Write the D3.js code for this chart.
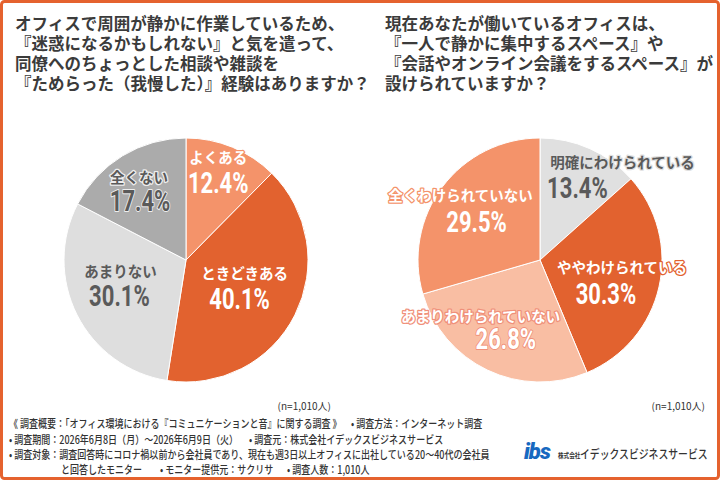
<!DOCTYPE html>
<html>
<head>
<meta charset="utf-8">
<script src="https://cdn.jsdelivr.net/npm/d3@7"></script>
<style>
  html, body { margin: 0; padding: 0; background: #fff; }
  svg { display: block; }
</style>
</head>
<body>
<div id="chart"></div>
<script>
// Data
const leftTitle = [
  "オフィスで周囲が静かに作業しているため、",
  "『迷惑になるかもしれない』と気を遣って、",
  "同僚へのちょっとした相談や雑談を",
  "『ためらった（我慢した）』経験はありますか？"
];
const leftLabels = ["よくある", "ときどきある", "あまりない", "全くない"];
const leftValues = [12.4, 40.1, 30.1, 17.4];

const rightTitle = [
  "現在あなたが働いているオフィスは、",
  "『一人で静かに集中するスペース』や",
  "『会話やオンライン会議をするスペース』が",
  "設けられていますか？"
];
const rightLabels = ["明確にわけられている", "ややわけられている", "あまりわけられていない", "全くわけられていない"];
const rightValues = [13.4, 30.3, 26.8, 29.5];

const sampleNote = "(n=1,010人)";

const width = 720;
const height = 480;
const jp = "'Noto Sans CJK JP', 'Noto Sans', sans-serif";

const svg = d3.select("#chart").append("svg")
    .attr("width", width)
    .attr("height", height);

svg.append("rect")
    .attr("width", width).attr("height", height)
    .attr("fill", "#fff");

// orange frame
svg.append("rect")
    .attr("x", 1.5).attr("y", 1.5)
    .attr("width", width - 3).attr("height", height - 3)
    .attr("rx", 3)
    .attr("fill", "none")
    .attr("stroke", "#E5622E")
    .attr("stroke-width", 3);

// titles
function drawTitle(lines, x) {
  svg.append("g").selectAll("text")
    .data(lines)
    .join("text")
    .attr("x", x)
    .attr("y", (d, i) => 30 + i * 20)
    .attr("font-family", jp)
    .attr("font-weight", 700)
    .attr("font-size", 16.5)
    .attr("fill", "#3b3b3b")
    .text(d => d);
}
drawTitle(leftTitle, 15);
drawTitle(rightTitle, 385);

// pie helper
const radius = 122;
const pie = d3.pie().sort(null).value(d => d);
const arc = d3.arc().innerRadius(0).outerRadius(radius);
const labelArc = d3.arc().innerRadius(radius * 0.63).outerRadius(radius * 0.63);

function drawPie(cfg) {
  const g = svg.append("g").attr("transform", `translate(${cfg.cx},${cfg.cy})`);
  const arcs = pie(cfg.values);

  g.selectAll("path")
    .data(arcs)
    .join("path")
    .attr("d", arc)
    .attr("fill", (d, i) => cfg.colors[i])
    .attr("stroke", "#fff")
    .attr("stroke-width", 1);

  const lab = g.selectAll("g.lab")
    .data(arcs)
    .join("g")
    .attr("class", "lab")
    .attr("transform", (d, i) => {
      const [x, y] = labelArc.centroid(d);
      return `translate(${x + cfg.nudge[i][0]},${y + cfg.nudge[i][1]})`;
    });

  // category name
  lab.append("text")
    .attr("x", (d, i) => cfg.nameShift[i][0])
    .attr("y", (d, i) => cfg.nameShift[i][1])
    .attr("text-anchor", "middle")
    .attr("font-family", jp)
    .attr("font-weight", 700)
    .attr("font-size", 14.5)
    .attr("fill", (d, i) => cfg.textColors[i])
    .attr("stroke", (d, i) => cfg.haloColors[i])
    .attr("stroke-width", 2.5)
    .attr("stroke-linejoin", "round")
    .attr("paint-order", "stroke")
    .text((d, i) => cfg.labels[i]);

  // percentage (condensed)
  lab.append("text")
    .attr("transform", "translate(0,10.5) scale(0.76,1)")
    .attr("text-anchor", "middle")
    .attr("font-family", "Roboto, 'DejaVu Sans', sans-serif")
    .attr("font-weight", 700)
    .attr("font-size", 29)
    .attr("fill", (d, i) => cfg.textColors[i])
    .attr("stroke", (d, i) => cfg.haloColors[i])
    .attr("stroke-width", 2)
    .attr("stroke-linejoin", "round")
    .attr("paint-order", "stroke")
    .text(d => d.value.toFixed(1) + "%");

  svg.append("text")
    .attr("x", cfg.noteX)
    .attr("y", 410)
    .attr("text-anchor", "end")
    .attr("font-family", jp)
    .attr("font-size", 10)
    .attr("fill", "#333")
    .text(sampleNote);
}

drawPie({
  cx: 186, cy: 260,
  values: leftValues,
  labels: leftLabels,
  colors: ["#F4936A", "#E2622F", "#DEDEDE", "#ABABAB"],
  textColors: ["#fff", "#fff", "#5a5a5a", "#5a5a5a"],
  haloColors: ["#F4936A", "#E2622F", "#DEDEDE", "#eeeeee"],
  nudge: [[3, -6], [-15, 4], [2, 1], [-6, 6]],
  nameShift: [[0, -20], [5, -20], [1, -19], [-1, -17]],
  noteX: 331
});

drawPie({
  cx: 540, cy: 260,
  values: rightValues,
  labels: rightLabels,
  colors: ["#E0E0E0", "#E2622F", "#F9BEA3", "#F4936A"],
  textColors: ["#5a5a5a", "#fff", "#fff", "#fff"],
  haloColors: ["#E0E0E0", "#E2622F", "#F0907A", "#F4936A"],
  nudge: [[6, -2], [-9, 16], [-1, 9], [-2, 8]],
  nameShift: [[45, -20], [16, -20], [-25, -16], [-16, -21]],
  noteX: 705
});

// footer notes
const footer = [
  { x: 9, y: 428, t: "《 調査概要：「オフィス環境における『コミュニケーションと音』に関する調査 》" },
  { x: 351, y: 428, t: "• 調査方法：インターネット調査" },
  { x: 9, y: 444, t: "• 調査期間：2026年6月8日（月）～2026年6月9日（火）" },
  { x: 249, y: 444, t: "• 調査元：株式会社イデックスビジネスサービス" },
  { x: 9, y: 459, t: "• 調査対象：調査回答時にコロナ禍以前から会社員であり、現在も週3日以上オフィスに出社している20～40代の会社員" },
  { x: 61, y: 474, t: "と回答したモニター" },
  { x: 160, y: 474, t: "• モニター提供元：サクリサ" },
  { x: 287, y: 474, t: "• 調査人数：1,010人" }
];
svg.append("g").selectAll("text")
  .data(footer)
  .join("text")
  .attr("transform", d => `translate(${d.x},${d.y}) scale(0.82,1)`)
  .attr("font-family", jp)
  .attr("font-weight", 500)
  .attr("font-size", 11)
  .attr("fill", "#333")
  .text(d => d.t);

// company logo
const logo = svg.append("g").attr("transform", "translate(524,459)");
logo.append("text")
  .attr("font-family", "Roboto, sans-serif")
  .attr("font-weight", 900)
  .attr("font-style", "italic")
  .attr("font-size", 22)
  .attr("fill", "#1769C0")
  .attr("letter-spacing", -1)
  .text("ibs");
logo.append("text")
  .attr("transform", "translate(34,-1) scale(0.8,1)")
  .attr("font-family", jp)
  .attr("font-weight", 700)
  .attr("font-size", 7)
  .attr("fill", "#333")
  .text("株式会社");
logo.append("text")
  .attr("transform", "translate(56,0) scale(0.82,1)")
  .attr("font-family", jp)
  .attr("font-weight", 500)
  .attr("font-size", 12)
  .attr("fill", "#333")
  .text("イデックスビジネスサービス");
</script>
</body>
</html>
